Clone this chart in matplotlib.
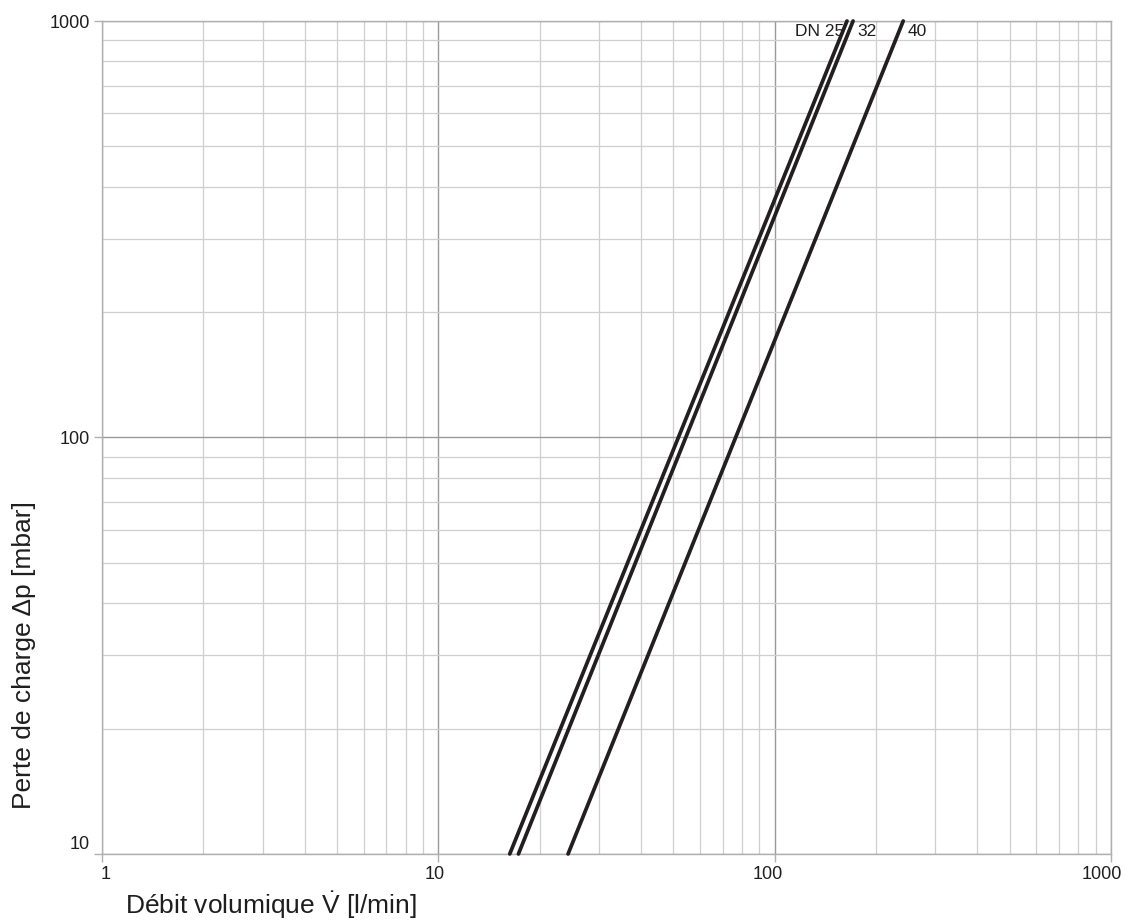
import numpy as np
import matplotlib.pyplot as plt
from matplotlib.ticker import LogLocator, FixedLocator, FixedFormatter, NullFormatter
from matplotlib.transforms import ScaledTranslation

plt.rcParams['mathtext.fontset'] = 'custom'
plt.rcParams['mathtext.rm'] = 'Liberation Sans'
plt.rcParams['mathtext.it'] = 'Liberation Sans:italic'

# flow [l/min] at dp = 10 and dp = 1000 mbar
series = ['DN 25', '32', '40']
flow_low = [16.3, 17.3, 24.3]
flow_high = [164, 171, 241]
dp_ends = [10, 1000]

x_ticks = [1, 10, 100, 1000]
x_tick_labels = ['1', '10', '100', '1000']
y_ticks = [10, 100, 1000]
y_tick_labels = ['10', '100', '1000']

line_color = '#231f20'
txt_color = '#1e1e1e'
font = ['Liberation Sans', 'DejaVu Sans']

fig = plt.figure(figsize=(11.25, 9.22), dpi=100)
ax = fig.add_axes([0.0907, 0.0738, 0.8969, 0.9034])
ax.set_xscale('log')
ax.set_yscale('log')
ax.set_xlim(1, 1000)
ax.set_ylim(10, 1000)

for name, lo, hi in zip(series, flow_low, flow_high):
    ax.plot([lo, hi], dp_ends, color=line_color, lw=2.7, solid_capstyle='round', zorder=3, clip_on=False)

# curve labels at the top end of each line
ax.annotate(series[0], (flow_high[0], dp_ends[1]), xytext=(-2, -2.5), textcoords='offset points',
            ha='right', va='top', fontsize=12.5, family=font, color=txt_color)
ax.annotate(series[1], (flow_high[1], dp_ends[1]), xytext=(3, -2.5), textcoords='offset points',
            ha='left', va='top', fontsize=12.5, family=font, color=txt_color)
ax.annotate(series[2], (flow_high[2], dp_ends[1]), xytext=(3, -2.5), textcoords='offset points',
            ha='left', va='top', fontsize=12.5, family=font, color=txt_color)

# grid
ax.xaxis.set_major_locator(FixedLocator(x_ticks))
ax.xaxis.set_major_formatter(FixedFormatter(x_tick_labels))
ax.yaxis.set_major_locator(FixedLocator(y_ticks))
ax.yaxis.set_major_formatter(FixedFormatter(y_tick_labels))
ax.xaxis.set_minor_locator(LogLocator(base=10, subs=np.arange(2, 10)))
ax.yaxis.set_minor_locator(LogLocator(base=10, subs=np.arange(2, 10)))
ax.xaxis.set_minor_formatter(NullFormatter())
ax.yaxis.set_minor_formatter(NullFormatter())
ax.grid(which='minor', color='#cfcfcf', lw=0.9)
ax.grid(which='major', color='#9a9a9a', lw=1.0)
ax.set_axisbelow(True)

for s in ax.spines.values():
    s.set_color('#b0b0b0')
    s.set_linewidth(1.0)

ax.tick_params(which='major', direction='out', length=6, width=1, color='#b0b0b0',
               labelsize=13, labelcolor=txt_color, pad=3)
ax.tick_params(which='minor', length=0)

fig.canvas.draw()
# small nudges of the tick labels as in the original
x_shift = [4, -4, -7, -9]
for lab, dx in zip(ax.get_xticklabels(), x_shift):
    lab.set_family(font)
    lab.set_transform(lab.get_transform() + ScaledTranslation(dx / 100, 0, fig.dpi_scale_trans))
y_shift = [11, 0, 0]
for lab, dy in zip(ax.get_yticklabels(), y_shift):
    lab.set_family(font)
    lab.set_transform(lab.get_transform() + ScaledTranslation(0, dy / 100, fig.dpi_scale_trans))

ax.set_xlabel(r'Débit volumique $\dot{\mathrm{V}}$ [l/min]', fontsize=19, family=font, color=txt_color)
ax.xaxis.set_label_coords(0.023, -0.061)
ax.xaxis.label.set_ha('left')
ax.xaxis.label.set_va('center')
ax.set_ylabel('Perte de charge Δp [mbar]', fontsize=19, family=font, color=txt_color)
ax.yaxis.set_label_coords(-0.077, 0.239)
ax.yaxis.label.set_va('center')
ax.yaxis.label.set_ha('center')

fig.savefig('out.png', dpi=100)
